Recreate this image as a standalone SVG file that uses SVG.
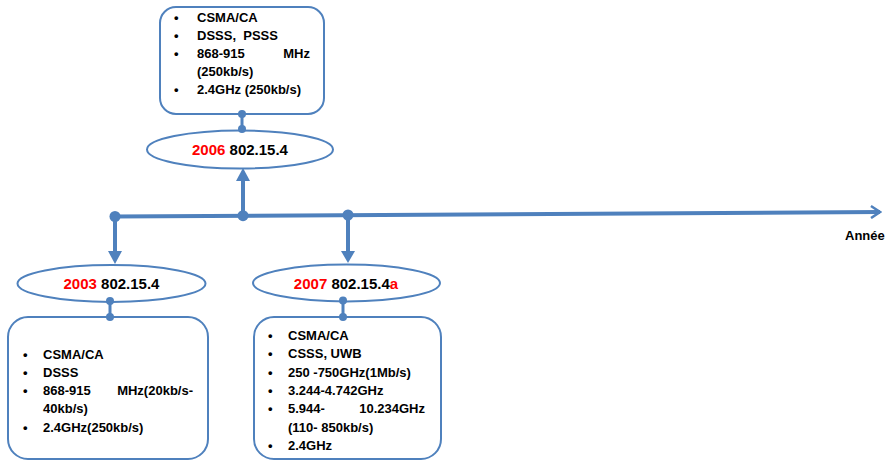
<svg xmlns="http://www.w3.org/2000/svg" width="890" height="461" viewBox="0 0 890 461">
  <style>
    .box { fill: #ffffff; stroke: #4f81bd; stroke-width: 2; }
    .ell { fill: #ffffff; stroke: #4f81bd; stroke-width: 2; }
    .t { font-family: "Liberation Sans", Arial, sans-serif; font-weight: bold; font-size: 13px; fill: #000000; }
    .h { font-family: "Liberation Sans", Arial, sans-serif; font-weight: bold; font-size: 15px; fill: #000000; }
    .red { fill: #ff0000; }
    .link { stroke: #4f81bd; stroke-width: 3; fill: none; }
    .axis { stroke: #4f81bd; stroke-width: 4; fill: none; }
    .dot { fill: #4f81bd; }
  </style>
  <defs>
    <marker id="chev" viewBox="0 0 12 14" refX="10" refY="7" markerWidth="12" markerHeight="14" markerUnits="userSpaceOnUse" orient="auto">
      <path d="M1,1 L10,7 L1,13" fill="none" stroke="#4f81bd" stroke-width="2.5"/>
    </marker>
  </defs>

  <!-- 2006 feature box -->
  <g id="box2006">
    <rect class="box" x="160" y="7" width="164" height="107" rx="16"/>
    <g class="t">
      <text x="174" y="22">•</text><text x="197" y="22">CSMA/CA</text>
      <text x="174" y="40">•</text><text x="197" y="40">DSSS,&#160; PSSS</text>
      <text x="174" y="58">•</text><text x="197" y="58">868-915</text><text x="310" y="58" text-anchor="end">MHz</text>
      <text x="197" y="76">(250kb/s)</text>
      <text x="174" y="94">•</text><text x="197" y="94">2.4GHz (250kb/s)</text>
    </g>
  </g>

  <g id="ell2006">
    <ellipse class="ell" cx="240" cy="149.5" rx="93" ry="19"/>
    <text class="h" x="240" y="155" text-anchor="middle"><tspan class="red">2006</tspan> 802.15.4</text>
  </g>

  <g id="ell2003">
    <ellipse class="ell" cx="111.5" cy="283.5" rx="94" ry="18.5"/>
    <text class="h" x="111.5" y="289" text-anchor="middle"><tspan class="red">2003</tspan> 802.15.4</text>
  </g>

  <g id="ell2007">
    <ellipse class="ell" cx="346.5" cy="283" rx="93.5" ry="18.5"/>
    <text class="h" x="346" y="289" text-anchor="middle"><tspan class="red">2007</tspan> 802.15.4<tspan class="red">a</tspan></text>
  </g>

  <!-- 2003 feature box -->
  <g id="box2003">
    <rect class="box" x="8" y="317" width="200" height="142" rx="20"/>
    <g class="t">
      <text x="23" y="359">•</text><text x="43" y="359">CSMA/CA</text>
      <text x="23" y="377">•</text><text x="43" y="377">DSSS</text>
      <text x="23" y="395">•</text><text x="43" y="395">868-915</text><text x="193" y="395" text-anchor="end">MHz(20kb/s-</text>
      <text x="43" y="413">40kb/s)</text>
      <text x="23" y="432">•</text><text x="43" y="432">2.4GHz(250kb/s)</text>
    </g>
  </g>

  <!-- 2007 feature box -->
  <g id="box2007">
    <rect class="box" x="254" y="317" width="187" height="142" rx="20"/>
    <g class="t">
      <text x="268" y="340">•</text><text x="288" y="340">CSMA/CA</text>
      <text x="268" y="358">•</text><text x="288" y="358">CSSS, UWB</text>
      <text x="268" y="377">•</text><text x="288" y="377">250 -750GHz(1Mb/s)</text>
      <text x="268" y="395">•</text><text x="288" y="395">3.244-4.742GHz</text>
      <text x="268" y="413">•</text><text x="288" y="413">5.944-</text><text x="425" y="413" text-anchor="end">10.234GHz</text>
      <text x="288" y="432">(110- 850kb/s)</text>
      <text x="268" y="450">•</text><text x="288" y="450">2.4GHz</text>
    </g>
  </g>

  <!-- timeline and connectors, drawn over the shapes -->
  <g id="connectors">
    <line class="axis" x1="114" y1="216.5" x2="880" y2="212" marker-end="url(#chev)"/>
    <!-- up to 2006 -->
    <line class="axis" x1="243" y1="215.7" x2="243" y2="180"/>
    <polygon class="dot" points="236,181 250,181 243,168"/>
    <!-- down to 2003 -->
    <line class="axis" x1="115" y1="216.5" x2="115" y2="252"/>
    <polygon class="dot" points="108,251 122,251 115,264"/>
    <!-- down to 2007 -->
    <line class="axis" x1="348" y1="215" x2="348" y2="252"/>
    <polygon class="dot" points="341,251 355,251 348,263"/>
    <circle class="dot" cx="115" cy="216.5" r="5.5"/>
    <circle class="dot" cx="243" cy="215.7" r="5.5"/>
    <circle class="dot" cx="348" cy="215" r="5.5"/>
    <!-- box to ellipse links -->
    <line class="link" x1="242" y1="114" x2="242" y2="129"/>
    <circle class="dot" cx="242" cy="114" r="4"/>
    <circle class="dot" cx="242" cy="129" r="4"/>
    <line class="link" x1="110" y1="301" x2="110" y2="317"/>
    <circle class="dot" cx="110" cy="301" r="4"/>
    <circle class="dot" cx="110" cy="317" r="4"/>
    <line class="link" x1="343" y1="300.5" x2="343" y2="317"/>
    <circle class="dot" cx="343" cy="300.5" r="4"/>
    <circle class="dot" cx="343" cy="317" r="4"/>
  </g>

  <text class="t" x="845" y="240">Année</text>
</svg>
